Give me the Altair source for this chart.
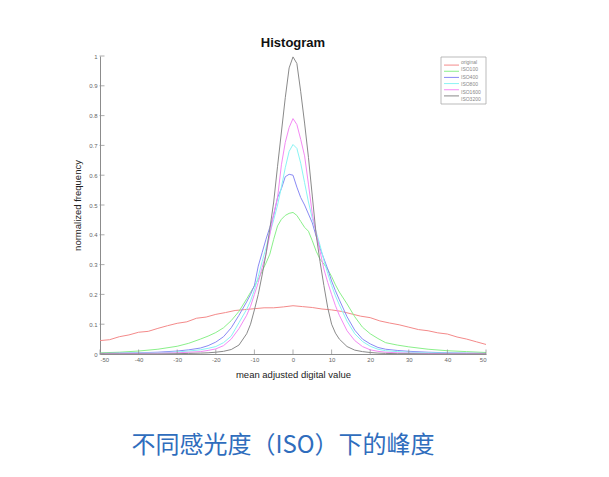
import altair as alt
import pandas as pd

# ---- data ----
x_orig = [-50, -47.5, -45, -42.5, -40, -37.5, -35, -32.5, -30, -27.5, -25, -22.5, -20, -17.5, -15,
          -12.5, -10, -7.5, -5, -2.5, 0, 2.5, 5, 7.5, 10, 12.5, 15, 17.5, 20, 22.5, 25, 27.5, 30,
          32.5, 35, 37.5, 40, 42.5, 45, 47.5, 50]
y_orig = [0.045, 0.048, 0.058, 0.064, 0.073, 0.076, 0.086, 0.095, 0.103, 0.108, 0.120, 0.124, 0.133,
          0.139, 0.146, 0.149, 0.152, 0.155, 0.155, 0.158, 0.162, 0.159, 0.156, 0.151, 0.148, 0.143,
          0.135, 0.127, 0.122, 0.111, 0.104, 0.098, 0.090, 0.082, 0.078, 0.071, 0.067, 0.057, 0.050,
          0.041, 0.032]

x_iso = [-50, -45, -40, -35, -30, -27, -24, -22, -20, -18, -16, -14, -12, -11, -10, -9, -8, -7, -6,
         -5, -4, -3, -2, -1, 0, 1, 2, 3, 4, 5, 6, 7, 8, 9, 10, 11, 12, 14, 16, 18, 20, 22, 24, 27,
         30, 35, 40, 45, 50]
iso100 = [0.004, 0.006, 0.010, 0.016, 0.026, 0.036, 0.050, 0.060, 0.072, 0.088, 0.112, 0.143, 0.185,
          0.207, 0.228, 0.250, 0.278, 0.305, 0.335, 0.385, 0.430, 0.452, 0.465, 0.472, 0.475, 0.465,
          0.445, 0.425, 0.412, 0.380, 0.345, 0.318, 0.302, 0.284, 0.260, 0.232, 0.208, 0.168, 0.125,
          0.090, 0.068, 0.052, 0.038, 0.030, 0.024, 0.016, 0.011, 0.008, 0.005]
iso400 = [0.002, 0.003, 0.004, 0.006, 0.010, 0.014, 0.020, 0.028, 0.040, 0.058, 0.088, 0.130, 0.175,
          0.200, 0.230, 0.295, 0.340, 0.385, 0.425, 0.465, 0.525, 0.555, 0.595, 0.603, 0.600, 0.560,
          0.525, 0.500, 0.470, 0.440, 0.395, 0.355, 0.320, 0.285, 0.245, 0.212, 0.182, 0.125, 0.080,
          0.050, 0.034, 0.022, 0.016, 0.012, 0.009, 0.006, 0.004, 0.003, 0.002]
iso800 = [0.001, 0.002, 0.003, 0.004, 0.007, 0.010, 0.014, 0.019, 0.025, 0.038, 0.060, 0.105, 0.150,
          0.178, 0.215, 0.260, 0.310, 0.355, 0.405, 0.450, 0.500, 0.560, 0.625, 0.680, 0.703, 0.690,
          0.640, 0.575, 0.510, 0.455, 0.410, 0.365, 0.315, 0.270, 0.230, 0.195, 0.165, 0.110, 0.068,
          0.042, 0.026, 0.016, 0.011, 0.008, 0.006, 0.004, 0.003, 0.002, 0.001]
iso1600 = [0.001, 0.001, 0.002, 0.003, 0.004, 0.006, 0.008, 0.012, 0.017, 0.028, 0.050, 0.085, 0.130,
           0.160, 0.200, 0.240, 0.290, 0.335, 0.400, 0.470, 0.525, 0.635, 0.710, 0.760, 0.790, 0.770,
           0.720, 0.665, 0.570, 0.470, 0.405, 0.345, 0.285, 0.240, 0.200, 0.162, 0.130, 0.078, 0.045,
           0.025, 0.014, 0.009, 0.006, 0.004, 0.003, 0.002, 0.001, 0.001, 0.001]
iso3200 = [0.000, 0.000, 0.000, 0.000, 0.001, 0.002, 0.003, 0.004, 0.006, 0.009, 0.015, 0.030, 0.068,
           0.100, 0.148, 0.200, 0.265, 0.335, 0.420, 0.510, 0.630, 0.745, 0.860, 0.960, 0.997, 0.975,
           0.880, 0.775, 0.660, 0.530, 0.400, 0.310, 0.230, 0.155, 0.100, 0.070, 0.050, 0.025, 0.013,
           0.008, 0.005, 0.003, 0.002, 0.001, 0.001, 0.000, 0.000, 0.000, 0.000]

series = ["original", "ISO100", "ISO400", "ISO800", "ISO1600", "ISO3200"]
colors = ["#f48a8a", "#8af08a", "#8a8af4", "#8af4f4", "#f48af4", "#8a8a8a"]

x_ticks = [-50, -40, -30, -20, -10, 0, 10, 20, 30, 40, 50]
y_ticks = [0, 0.1, 0.2, 0.3, 0.4, 0.5, 0.6, 0.7, 0.8, 0.9, 1]

title_text = "Histogram"
x_title = "mean adjusted digital value"
y_title = "normalized frequency"
caption = "不同感光度（ISO）下的峰度"

# ---- build tables ----
rows = [{"x": a, "y": b, "s": "original"} for a, b in zip(x_orig, y_orig)]
for name, vals in zip(series[1:], [iso100, iso400, iso800, iso1600, iso3200]):
    rows += [{"x": a, "y": b, "s": name} for a, b in zip(x_iso, vals)]
df = pd.DataFrame(rows)
leg_df = pd.DataFrame({"s": series})

W, H = 386, 298
axis_color = "#8c8c8c"
font = "Liberation Sans"

xscale = alt.Scale(domain=[-50, 50], nice=False, zero=False)
yscale = alt.Scale(domain=[0, 1], nice=False)
cscale = alt.Scale(domain=series, range=colors)

xaxis = alt.Axis(title=x_title, values=x_ticks, ticks=False, grid=False,
                 labelExpr="'' + datum.value", labelFontSize=6, labelColor="#666",
                 labelPadding=2, domainColor=axis_color, titleFontSize=9.5,
                 titleFontWeight="normal", titleColor="#222", titleFont=font,
                 labelFont=font, titleY=15, titleBaseline="top")
yaxis = alt.Axis(title=y_title, values=y_ticks, ticks=False, grid=False,
                 format="~g", labelFontSize=6, labelColor="#666", labelPadding=3,
                 domainColor=axis_color, titleFontSize=9.5, titleFontWeight="normal",
                 titleColor="#222", titleFont=font, labelFont=font,
                 titleX=-18, titleY=H / 2, titleBaseline="bottom")

lines = alt.Chart(df).mark_line(strokeWidth=1, clip=True).encode(
    x=alt.X("x:Q", scale=xscale, axis=xaxis),
    y=alt.Y("y:Q", scale=yscale, axis=yaxis),
    color=alt.Color("s:N", sort=series, scale=cscale, legend=None),
    order=alt.Order("s:N"),
)

xt = alt.Chart(pd.DataFrame({"x": x_ticks})).mark_tick(
    color=axis_color, size=5, thickness=1).encode(
    x=alt.X("x:Q", scale=xscale, axis=xaxis), y=alt.value(H - 2))
yt = alt.Chart(pd.DataFrame({"y": y_ticks})).mark_tick(
    color=axis_color, size=5, thickness=1).encode(
    y=alt.Y("y:Q", scale=yscale, axis=None), x=alt.value(2))

# legend drawn by hand (box, line samples, labels)
leg_y = alt.Y("s:N", sort=series, axis=None,
              scale=alt.Scale(domain=series, range=[6, 43], padding=0))
leg_box = alt.Chart(pd.DataFrame({"b": [0]})).mark_rect(
    fill="white", stroke="#aaaaaa", strokeWidth=0.8).encode(
    x=alt.value(W - 45), x2=alt.value(W), y=alt.value(1), y2=alt.value(48))
leg_line = alt.Chart(leg_df).mark_rule(strokeWidth=1).encode(
    y=leg_y, x=alt.value(W - 42), x2=alt.value(W - 27),
    color=alt.Color("s:N", scale=cscale, legend=None))
leg_text = alt.Chart(leg_df).mark_text(
    align="left", baseline="middle", fontSize=5, color="#888", font=font).encode(
    y=leg_y, x=alt.value(W - 25), text="s:N")

cap = alt.Chart(pd.DataFrame({"c": [caption]})).mark_text(
    fontSize=24, color="#2f6dbd", font="Noto Sans CJK SC", baseline="middle",
    align="center").encode(text="c:N", x=alt.value(183), y=alt.value(390))

chart = alt.layer(lines, xt, yt, leg_box, leg_line, leg_text, cap).resolve_scale(
    y="independent"
).properties(
    width=W, height=H,
    title=alt.TitleParams(title_text, fontSize=13, fontWeight="bold", font=font,
                          color="#111", offset=3, anchor="middle"),
    autosize=alt.AutoSizeParams(type="none"),
    padding={"left": 92, "top": 48, "right": 110, "bottom": 110},
).configure_view(stroke=None)

chart.save("out.html", embed_options={"renderer": "svg", "actions": False})
